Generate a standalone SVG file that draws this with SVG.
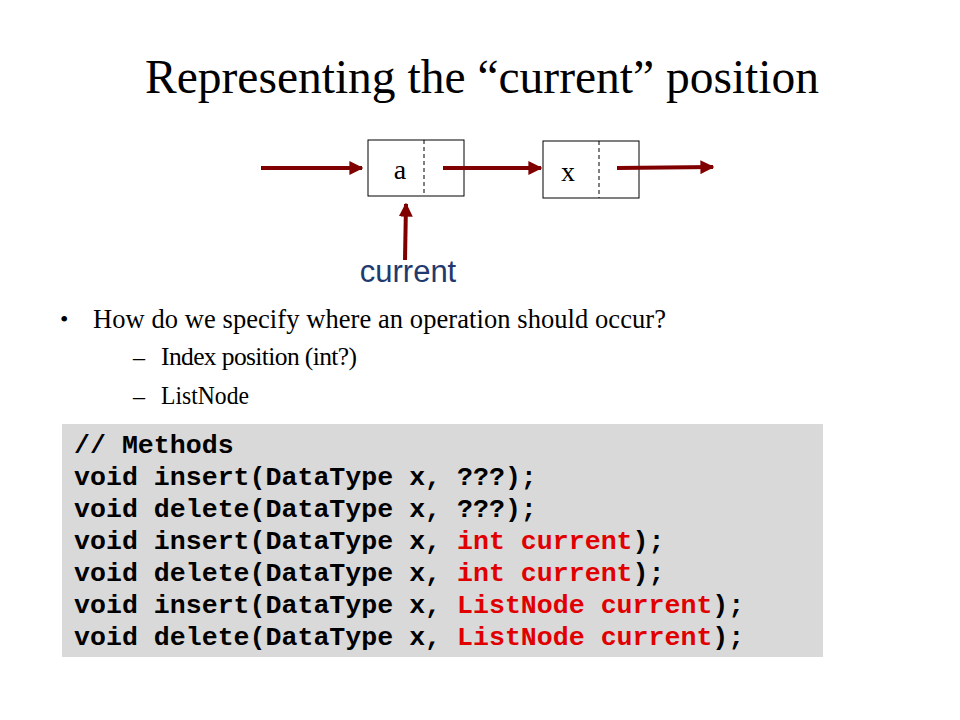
<svg xmlns="http://www.w3.org/2000/svg" width="960" height="720" viewBox="0 0 960 720">
<defs>
<marker id="ah" viewBox="0 0 10 10" refX="9" refY="5" markerWidth="3.5" markerHeight="3.5" markerUnits="strokeWidth" orient="auto">
<path d="M0,0 L10,5 L0,10 z" fill="#800000"/>
</marker>
<style>
.serif{font-family:"Liberation Serif","Times New Roman",serif;fill:#000}
.box{fill:#fff;stroke:#000;stroke-width:1}
.div{stroke:#000;stroke-width:1;stroke-dasharray:4,3}
.arr{stroke:#800000;stroke-width:4;fill:none;marker-end:url(#ah)}
.code{font-family:"Liberation Mono","Courier New",monospace;font-weight:bold;font-size:26.6px;fill:#000}
.red{fill:#e00000}
.b{font-size:24px}
.s{font-size:25.5px}
</style>
</defs>
<rect width="960" height="720" fill="#fff"/>
<text class="serif" x="482" y="93" font-size="47.5" text-anchor="middle">Representing the “current” position</text>
<g id="node-a">
<rect class="box" x="368" y="140" width="96" height="56"/>
<line class="div" x1="424" y1="140" x2="424" y2="196"/>
<text class="serif" x="400" y="179" font-size="28" text-anchor="middle">a</text>
</g>
<g id="node-x">
<rect class="box" x="543" y="141" width="96" height="57"/>
<line class="div" x1="599" y1="141" x2="599" y2="198"/>
<text class="serif" x="568" y="181" font-size="28" text-anchor="middle">x</text>
</g>
<g id="current-label">
<text x="408" y="282" font-family="Liberation Sans,Arial,sans-serif" font-size="31" fill="#1f3a6e" text-anchor="middle">current</text>
</g>
<g id="connectors">
<line class="arr" x1="261" y1="168" x2="362" y2="168"/>
<line class="arr" x1="443" y1="168" x2="541" y2="168"/>
<line class="arr" x1="617" y1="168" x2="713" y2="167"/>
<line class="arr" x1="405" y1="260" x2="406" y2="204"/>
</g>
<g id="bullets">
<text class="serif b" x="60" y="327">•</text>
<text class="serif" x="93" y="328" font-size="26.5" textLength="573" lengthAdjust="spacing">How do we specify where an operation should occur?</text>
<text class="serif b" x="133" y="365">–</text>
<text class="serif s" x="161" y="365" textLength="196" lengthAdjust="spacing">Index position (int?)</text>
<text class="serif b" x="133" y="404">–</text>
<text class="serif s" x="161" y="404" textLength="88" lengthAdjust="spacingAndGlyphs">ListNode</text>
</g>
<g id="code">
<rect x="62" y="424" width="761" height="233" fill="#d9d9d9"/>
<text class="code" x="74" y="453">// Methods</text>
<text class="code" x="74" y="485">void insert(DataType x, ???);</text>
<text class="code" x="74" y="517">void delete(DataType x, ???);</text>
<text class="code" x="74" y="549">void insert(DataType x, <tspan class="red">int current</tspan>);</text>
<text class="code" x="74" y="581">void delete(DataType x, <tspan class="red">int current</tspan>);</text>
<text class="code" x="74" y="613">void insert(DataType x, <tspan class="red">ListNode current</tspan>);</text>
<text class="code" x="74" y="645">void delete(DataType x, <tspan class="red">ListNode current</tspan>);</text>
</g>
</svg>
